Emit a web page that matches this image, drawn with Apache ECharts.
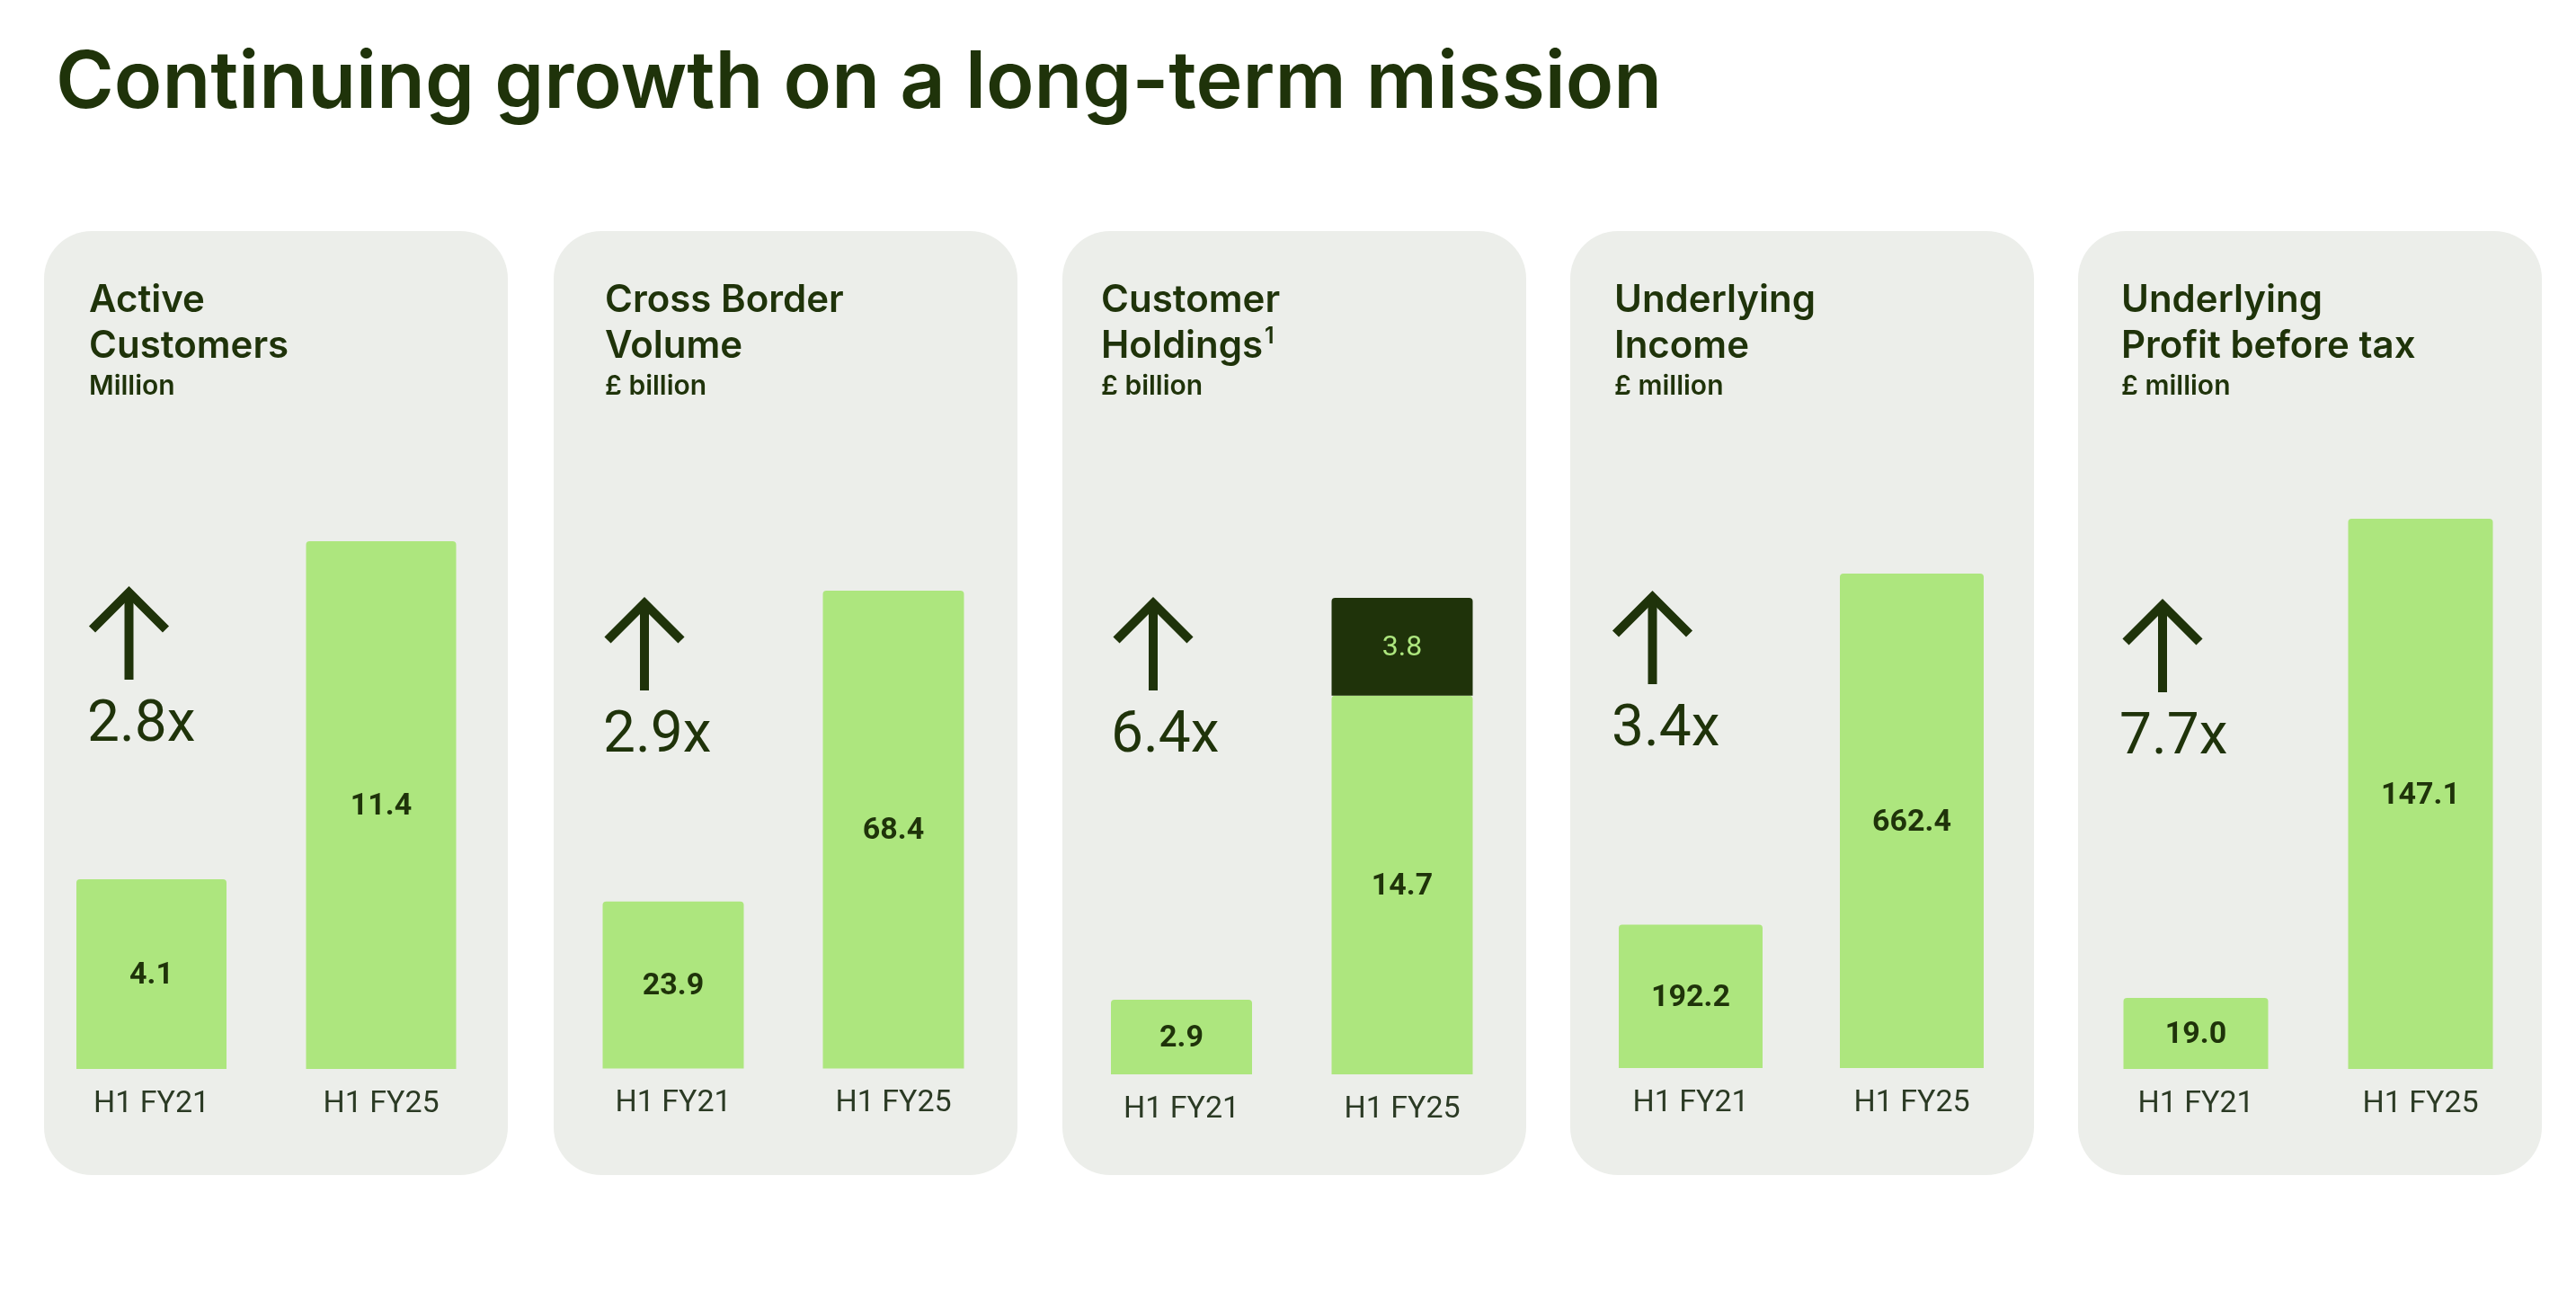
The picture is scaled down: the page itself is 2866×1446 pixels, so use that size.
<!DOCTYPE html>
<html>
<head>
<meta charset="utf-8">
<script src="https://cdn.jsdelivr.net/npm/echarts@6/dist/echarts.min.js"></script>
<style>
  html, body { margin: 0; padding: 0; background: #ffffff; }
  #main { width: 2866px; height: 1446px; }
</style>
</head>
<body>
<div id="main"></div>
<script>
// data
const categories = ['H1 FY21', 'H1 FY25'];
const activeCustomers = [4.1, 11.4];
const crossBorderVolume = [23.9, 68.4];
const holdingsBase = [2.9, 14.7];
const holdingsExtra = ['-', 3.8];
const underlyingIncome = [192.2, 662.4];
const underlyingProfit = [19.0, 147.1];
const growthLabels = ['2.8x', '2.9x', '6.4x', '3.4x', '7.7x'];
const titleLine1 = ['Active', 'Cross Border', 'Customer', 'Underlying', 'Underlying'];
const titleLine2 = ['Customers', 'Volume', 'Holdings', 'Income', 'Profit before tax'];
const titleSup = ['', '', '1', '', ''];
const units = ['Million', '£ billion', '£ billion', '£ million', '£ million'];

const DARK = '#1f330a';
const GREEN = '#ade67e';
const CARD = '#eceeea';

// card layout (pixels)
const layout = [
  { x: 49,   c1: 168.5,  c2: 424,  barW: 167, top: 602, bottom: 1189,   ax: 143.5,  at: 658, tx: 99,   gx: 99 },
  { x: 616,  c1: 749,    c2: 994,  barW: 157, top: 657, bottom: 1188.5, ax: 717,    at: 670, tx: 673,  gx: 673 },
  { x: 1182, c1: 1314.5, c2: 1560, barW: 157, top: 665, bottom: 1195,   ax: 1283,   at: 670, tx: 1225, gx: 1238 },
  { x: 1747, c1: 1881,   c2: 2127, barW: 160, top: 638, bottom: 1188,   ax: 1838.5, at: 663, tx: 1796, gx: 1795 },
  { x: 2312, c1: 2443,   c2: 2693, barW: 161, top: 577, bottom: 1189,   ax: 2406,   at: 672, tx: 2360, gx: 2360 }
];

const seriesData = [
  [activeCustomers],
  [crossBorderVolume],
  [holdingsBase, holdingsExtra],
  [underlyingIncome],
  [underlyingProfit]
];

const myChart = echarts.init(document.getElementById('main'));

const grid = [], xAxis = [], yAxis = [], series = [], graphic = [];

layout.forEach((L, i) => {
  const band = L.c2 - L.c1;
  grid.push({
    left: L.c1 - band / 2,
    width: band * 2,
    top: L.top,
    height: L.bottom - L.top,
    containLabel: false,
    outerBoundsMode: 'none'
  });
  xAxis.push({
    type: 'category',
    gridIndex: i,
    data: categories,
    axisLine: { show: false },
    axisTick: { show: false },
    axisLabel: {
      margin: 22,
      fontFamily: 'Roboto',
      fontSize: 34,
      color: '#2b3a24'
    }
  });
  // stacked totals give the axis top
  const totals = categories.map((c, k) =>
    seriesData[i].reduce((s, arr) => s + (typeof arr[k] === 'number' ? arr[k] : 0), 0));
  yAxis.push({
    type: 'value',
    gridIndex: i,
    min: 0,
    max: Math.max(...totals),
    show: false,
    splitLine: { show: false }
  });
  seriesData[i].forEach((arr, j) => {
    const isExtra = j === 1;
    series.push({
      type: 'bar',
      xAxisIndex: i,
      yAxisIndex: i,
      stack: 'p' + i,
      data: arr,
      barWidth: L.barW,
      itemStyle: {
        color: isExtra ? DARK : GREEN,
        borderRadius: [4, 4, 0, 0]
      },
      label: {
        show: true,
        position: 'inside',
        offset: [0, 2],
        fontFamily: 'Roboto',
        fontSize: isExtra ? 32 : 34,
        fontWeight: isExtra ? 'normal' : 'bold',
        color: isExtra ? GREEN : DARK,
        formatter: p => Number(p.value).toFixed(1)
      },
      silent: true
    });
  });

  // card
  graphic.push({
    type: 'rect',
    z: -10,
    shape: { x: L.x, y: 257, width: 516, height: 1050, r: 53 },
    style: { fill: CARD }
  });
  // heading
  graphic.push({
    type: 'text', z: 5, x: L.tx, y: 334,
    style: { text: titleLine1[i], fill: DARK, font: '600 42px Inter', verticalAlign: 'middle' }
  });
  graphic.push({
    type: 'text', z: 5, x: L.tx, y: 385,
    style: {
      text: titleLine2[i] + (titleSup[i] ? '{s|' + titleSup[i] + '}' : ''),
      fill: DARK, font: '600 42px Inter', verticalAlign: 'middle',
      rich: { s: { fontFamily: 'Inter', fontWeight: 600, fontSize: 25, fill: DARK, verticalAlign: 'top', padding: [0, 0, 22, 2] } }
    }
  });
  graphic.push({
    type: 'text', z: 5, x: L.tx, y: 430,
    style: { text: units[i], fill: DARK, font: '600 30px Inter', verticalAlign: 'middle' }
  });
  // arrow
  graphic.push({
    type: 'polyline', z: 5,
    shape: { points: [[L.ax - 41, L.at + 42], [L.ax, L.at + 1], [L.ax + 41, L.at + 42]] },
    style: { stroke: DARK, lineWidth: 10, fill: null, lineJoin: 'miter', lineCap: 'butt' }
  });
  graphic.push({
    type: 'line', z: 5,
    shape: { x1: L.ax, y1: L.at + 4, x2: L.ax, y2: L.at + 98 },
    style: { stroke: DARK, lineWidth: 10, lineCap: 'butt' }
  });
  // growth multiple
  graphic.push({
    type: 'text', z: 5, x: L.gx - 2, y: L.at + 150,
    style: { text: growthLabels[i], fill: DARK, font: '400 64px Roboto', verticalAlign: 'middle' }
  });
});

// main title
graphic.push({
  type: 'text', z: 5, x: 62, y: 94,
  style: { text: 'Continuing growth on a long-term mission', fill: DARK, font: '600 88px Inter', verticalAlign: 'middle' }
});

const option = {
  backgroundColor: '#ffffff',
  animation: false,
  grid: grid,
  xAxis: xAxis,
  yAxis: yAxis,
  series: series,
  graphic: graphic
};

myChart.setOption(option);
</script>
</body>
</html>
